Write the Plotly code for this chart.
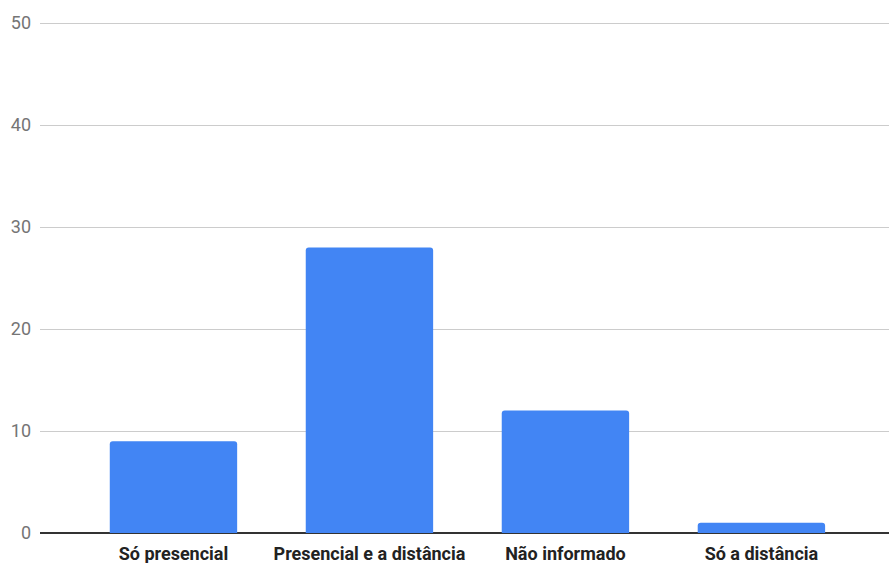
import plotly.graph_objects as go

categories = ["Só presencial", "Presencial e a distância", "Não informado", "Só a distância"]
values = [9, 28, 12, 1]
y_ticks = [0, 10, 20, 30, 40, 50]

fig = go.Figure(
    go.Bar(
        x=categories,
        y=values,
        marker=dict(color="#4285f4", line=dict(width=0)),
        width=0.65,
        hoverinfo="skip",
    )
)

fig.update_layout(
    width=889,
    height=563,
    margin=dict(l=40, r=0, t=22, b=30),
    paper_bgcolor="white",
    plot_bgcolor="white",
    showlegend=False,
    barcornerradius=3,
    font=dict(family="Roboto, Arial, sans-serif"),
)

fig.update_xaxes(
    range=[-0.681, 3.651],
    showgrid=False,
    showline=False,
    zeroline=False,
    tickfont=dict(size=18, color="#222222", family="Roboto, Arial, sans-serif", weight="bold"),
    ticks="",
    ticklabelstandoff=8,
)

fig.update_yaxes(
    range=[0, 50.1],
    tickvals=y_ticks,
    showgrid=True,
    gridcolor="#cccccc",
    gridwidth=1,
    zeroline=True,
    zerolinecolor="#333333",
    zerolinewidth=1.5,
    showline=False,
    tickfont=dict(size=18, color="#757575"),
    ticklabelstandoff=8,
)

fig.write_html("out.html")
